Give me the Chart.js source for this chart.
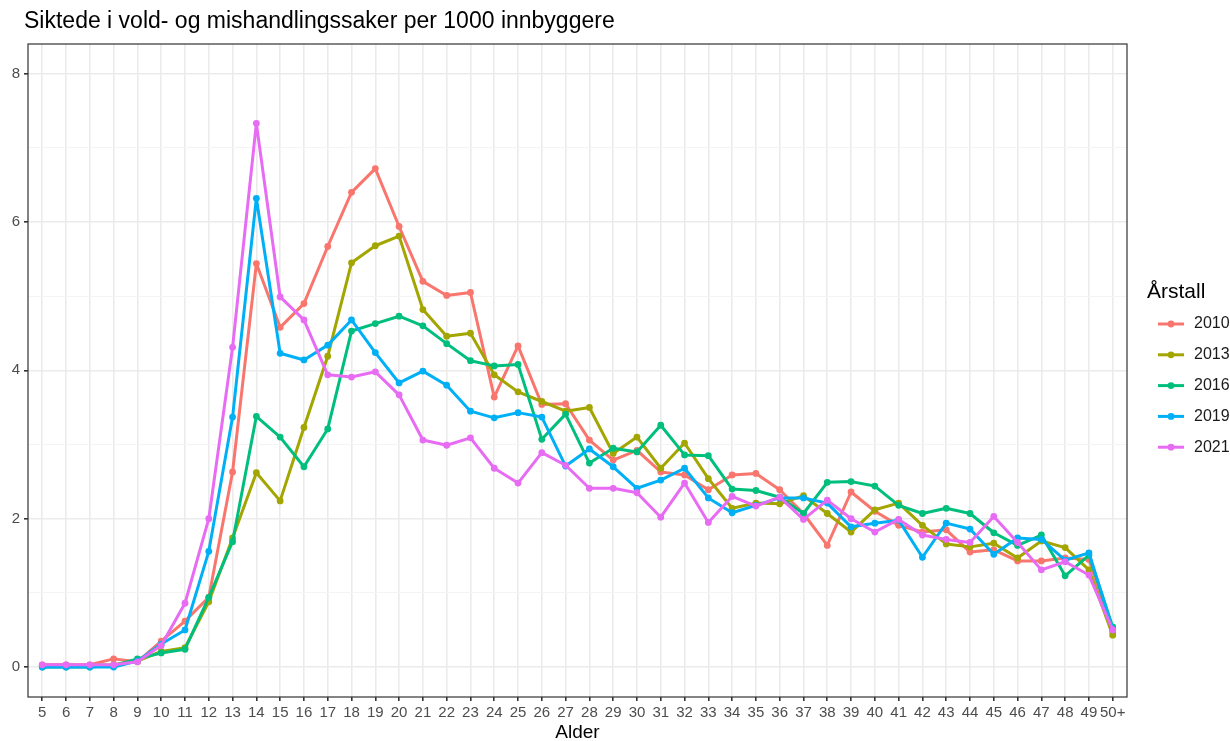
<!DOCTYPE html>
<html>
<head>
<meta charset="utf-8">
<script src="https://cdn.jsdelivr.net/npm/chart.js@4"></script>
<style>
  html, body { margin: 0; padding: 0; background: #fff; }
  #wrap { width: 1230px; height: 741px; }
</style>
</head>
<body>
<div id="wrap"><canvas id="chart" width="1230" height="741"></canvas></div>
<script>
// aldersgrupper
const ages = ['5','6','7','8','9','10','11','12','13','14','15','16','17','18','19','20','21','22','23','24','25','26','27',
  '28','29','30','31','32','33','34','35','36','37','38','39','40','41','42','43','44','45','46','47','48','49','50+'];

const years = ['2010', '2013', '2016', '2019', '2021'];
const colors = ['#F8766D', '#A3A500', '#00BF7D', '#00B0F6', '#E76BF3'];

// siktede per 1000 innbyggere
const v2010 = [0.03,0.03,0.03,0.11,0.07,0.35,0.62,0.94,2.63,5.44,4.58,4.90,5.67,6.40,6.72,5.94,5.20,5.01,5.05,3.64,4.33,3.54,3.55,
  3.06,2.79,2.92,2.63,2.59,2.39,2.59,2.61,2.39,2.07,1.64,2.36,2.10,1.91,1.82,1.85,1.55,1.58,1.43,1.43,1.47,1.45,0.47];
const v2013 = [0.02,0.02,0.02,0.03,0.08,0.21,0.26,0.88,1.74,2.62,2.24,3.23,4.19,5.45,5.68,5.81,4.82,4.46,4.50,3.94,3.71,3.58,3.45,
  3.50,2.88,3.10,2.68,3.02,2.54,2.14,2.21,2.20,2.31,2.07,1.82,2.12,2.21,1.91,1.66,1.62,1.67,1.47,1.70,1.61,1.31,0.43];
const v2016 = [0.00,0.00,0.00,0.02,0.11,0.19,0.24,0.94,1.69,3.38,3.10,2.70,3.21,4.53,4.63,4.73,4.60,4.36,4.13,4.06,4.08,3.07,3.41,
  2.75,2.95,2.90,3.26,2.86,2.85,2.40,2.38,2.29,2.07,2.49,2.50,2.44,2.18,2.07,2.14,2.07,1.81,1.64,1.78,1.23,1.51,0.54];
const v2019 = [0.00,0.00,0.00,0.00,0.08,0.31,0.50,1.56,3.37,6.32,4.23,4.14,4.34,4.68,4.24,3.83,3.99,3.80,3.45,3.36,3.43,3.37,2.71,
  2.94,2.70,2.41,2.52,2.68,2.28,2.08,2.18,2.28,2.28,2.21,1.89,1.94,1.98,1.48,1.94,1.86,1.52,1.74,1.72,1.44,1.54,0.51];
const v2021 = [0.03,0.03,0.03,0.03,0.07,0.29,0.86,2.00,4.31,7.33,4.99,4.68,3.94,3.91,3.98,3.67,3.06,2.99,3.09,2.68,2.48,2.89,2.72,
  2.41,2.41,2.35,2.02,2.48,1.95,2.30,2.17,2.29,1.99,2.25,2.00,1.82,1.99,1.78,1.72,1.68,2.03,1.68,1.31,1.42,1.24,0.50];

const series = [v2010, v2013, v2016, v2019, v2021];
const yTicks = [0, 1, 2, 3, 4, 5, 6, 7, 8];
const yLabels = ['0', '', '2', '', '4', '', '6', '', '8'];

const FONT = '"Liberation Sans", Arial, sans-serif';

const datasets = series.map((vals, i) => ({
  label: years[i],
  data: vals.map((v, k) => ({ x: k, y: v })),
  borderColor: colors[i],
  backgroundColor: colors[i],
  pointBackgroundColor: colors[i],
  pointBorderWidth: 0,
  pointRadius: 3.4,
  borderWidth: 3,
  borderJoinStyle: 'round',
  borderCapStyle: 'round',
  tension: 0,
  order: series.length - i
}));

// panelramme, titler og forklaring (ggplot-stil)
const ggExtras = {
  id: 'ggExtras',
  afterDraw(chart) {
    const ctx = chart.ctx;
    const a = chart.chartArea;
    ctx.save();
    ctx.strokeStyle = '#333333';
    ctx.lineWidth = 1.2;
    ctx.strokeRect(a.left, a.top, a.right - a.left, a.bottom - a.top);

    ctx.fillStyle = '#000';
    ctx.font = '23px ' + FONT;
    ctx.textBaseline = 'middle';
    ctx.textAlign = 'left';
    ctx.fillText('Siktede i vold- og mishandlingssaker per 1000 innbyggere', 24, 22);

    // x-aksetittel
    ctx.font = '19px ' + FONT;
    ctx.textAlign = 'center';
    ctx.fillText('Alder', (a.left + a.right) / 2, 733);

    ctx.textAlign = 'left';
    ctx.font = '21px ' + FONT;
    ctx.fillText('Årstall', 1147, 292);
    ctx.font = '16px ' + FONT;
    years.forEach((yr, i) => {
      const y = 324 + i * 30.8;
      ctx.strokeStyle = colors[i];
      ctx.lineWidth = 3;
      ctx.beginPath();
      ctx.moveTo(1158, y);
      ctx.lineTo(1184, y);
      ctx.stroke();
      ctx.fillStyle = colors[i];
      ctx.beginPath();
      ctx.arc(1171, y, 3.4, 0, Math.PI * 2);
      ctx.fill();
      ctx.fillStyle = '#1a1a1a';
      ctx.fillText(yr, 1194, y);
    });
    ctx.restore();
  }
};

new Chart(document.getElementById('chart'), {
  type: 'line',
  data: { datasets },
  plugins: [ggExtras],
  options: {
    responsive: false,
    animation: false,
    layout: { padding: { top: 44, right: 103, left: 0, bottom: 0 } },
    plugins: {
      legend: { display: false },
      title: { display: false },
      tooltip: { enabled: false }
    },
    scales: {
      x: {
        type: 'linear',
        min: -0.6,
        max: ages.length - 1 + 0.6,
        afterBuildTicks: (scale) => { scale.ticks = ages.map((_, i) => ({ value: i })); },
        afterFit: (scale) => { scale.height = 44; },
        border: { display: false },
        grid: { color: '#ebebeb', lineWidth: 1.6, tickColor: '#333333', tickLength: 4 },
        ticks: {
          autoSkip: false,
          maxRotation: 0,
          padding: 3,
          color: '#4d4d4d',
          font: { family: FONT, size: 15 },
          callback: (v) => ages[v]
        }
      },
      y: {
        min: -0.404,
        max: 8.4,
        afterBuildTicks: (scale) => { scale.ticks = yTicks.map(v => ({ value: v })); },
        afterFit: (scale) => { scale.width = 28; },
        border: { display: false },
        grid: {
          color: (c) => (c.tick && c.tick.value % 2 === 0) ? '#ebebeb' : '#f4f4f4',
          lineWidth: (c) => (c.tick && c.tick.value % 2 === 0) ? 1.6 : 1,
          tickColor: (c) => (c.tick && c.tick.value % 2 === 0) ? '#333333' : 'rgba(0,0,0,0)',
          tickLength: 4
        },
        ticks: {
          padding: 4,
          color: '#4d4d4d',
          font: { family: FONT, size: 15 },
          callback: (v) => yLabels[yTicks.indexOf(v)]
        }
      }
    }
  }
});
</script>
</body>
</html>
